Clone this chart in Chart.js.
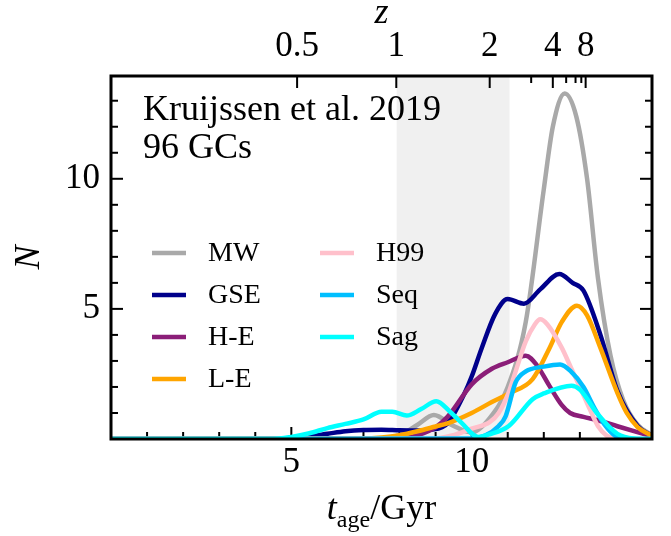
<!DOCTYPE html>
<html>
<head>
<meta charset="utf-8">
<script src="https://cdn.jsdelivr.net/npm/chart.js@4.4.0/dist/chart.umd.min.js"></script>
<style>
  body { margin: 0; background: #fff; }
  canvas { display: block; }
</style>
</head>
<body>
<canvas id="ageChart" width="671" height="536"></canvas>
<script>
// ages (Gyr) and N, one pair of arrays per sample
const mwAge  = [0, 7.0, 7.5, 8.0, 8.5, 8.95, 9.5, 10.0, 10.5, 11.0, 11.5, 12.0, 12.25, 12.58, 12.9, 13.2, 13.5, 13.85, 14.2, 14.6, 15];
const mwN    = [0, 0.0, 0.03, 0.15, 0.55, 0.92, 0.5, 0.25, 0.8, 2.0, 4.5, 9.6, 12.0, 13.28, 12.4, 10.0, 6.2, 3.2, 1.5, 0.55, 0.15];
const gseAge = [0, 4.5, 5.0, 5.5, 6.0, 6.5, 7.0, 7.5, 8.0, 8.5, 8.87, 9.33, 9.8, 10.0, 10.28, 10.65, 11.0, 11.45, 11.9, 12.43, 12.8, 13.1, 13.57, 14.04, 14.6, 15];
const gseN   = [0, 0, 0.03, 0.1, 0.2, 0.3, 0.35, 0.36, 0.34, 0.33, 0.36, 0.6, 1.75, 2.4, 3.5, 4.8, 5.38, 5.2, 5.75, 6.34, 6.0, 5.7, 4.0, 1.85, 0.5, 0.12];
const heAge  = [0, 8.0, 8.5, 9.0, 9.33, 9.5, 10.0, 10.56, 11.0, 11.5, 11.8, 12.16, 12.5, 12.73, 13.1, 13.5, 14.04, 14.5, 15];
const heN    = [0, 0.02, 0.15, 0.45, 0.85, 1.15, 2.1, 2.7, 2.95, 3.2, 2.85, 2.03, 1.3, 1.0, 0.85, 0.72, 0.49, 0.3, 0.1];
const leAge  = [0, 7.0, 7.5, 8.0, 8.5, 9.0, 9.33, 10.0, 10.56, 11.03, 11.69, 12.16, 12.5, 12.92, 13.2, 13.57, 14.04, 14.3, 14.6, 15];
const leN    = [0, 0.02, 0.06, 0.15, 0.3, 0.48, 0.6, 1.0, 1.42, 1.75, 2.3, 3.5, 4.5, 5.12, 4.75, 3.5, 1.77, 1.0, 0.46, 0.12];
const h99Age = [0, 9.0, 9.5, 10.0, 10.5, 10.75, 11.03, 11.22, 11.5, 11.75, 11.9, 12.1, 12.5, 12.75, 13.0, 13.29, 13.5, 13.75, 14.0, 15];
const h99N   = [0, 0.02, 0.15, 0.4, 0.65, 1.0, 1.8, 2.6, 3.75, 4.4, 4.6, 4.4, 3.5, 2.75, 2.0, 1.1, 0.5, 0.12, 0.02, 0];
const seqAge = [0, 10.0, 10.37, 10.75, 10.94, 11.22, 11.5, 12.0, 12.45, 12.75, 13.1, 13.4, 13.67, 14.0, 14.3, 15];
const seqN   = [0, 0.02, 0.13, 0.5, 0.87, 2.18, 2.6, 2.78, 2.86, 2.6, 2.0, 1.2, 0.58, 0.1, 0, 0];
const sagAge = [0, 4.5, 5.0, 5.5, 6.0, 6.5, 7.0, 7.5, 7.8, 8.2, 8.6, 9.02, 9.4, 9.7, 10.18, 10.5, 11.03, 11.69, 12.0, 12.77, 13.0, 13.48, 14.04, 14.5, 15];
const sagN   = [0, 0, 0.08, 0.22, 0.42, 0.58, 0.75, 1.05, 1.05, 0.9, 1.15, 1.45, 1.05, 0.65, 0.08, 0.18, 0.5, 1.53, 1.75, 2.05, 1.9, 0.98, 0.2, 0.02, 0];

const names  = ["MW", "GSE", "H-E", "L-E", "H99", "Seq", "Sag"];
const colors = ["#a9a9a9", "#00008b", "#8b1e78", "#ffa500", "#ffc0cb", "#00bfff", "#00ffff"];

// bottom axis labels, top axis redshift ticks (placed at their lookback time)
const ageLabels = [5, 10];
const zLabels   = ["0.5", "1", "2", "4", "8"];
const zAge      = [5.16, 7.91, 10.5, 12.25, 13.16];
const zMinorAge = [11.65, 12.62, 12.88, 13.04];
const shade     = [7.92, 11.05];

const serif = "'Liberation Serif', 'Times New Roman', serif";
const allAges = [mwAge, gseAge, heAge, leAge, h99Age, seqAge, sagAge];
const allN    = [mwN, gseN, heN, leN, h99N, seqN, sagN];

const datasets = names.map((name, i) => ({
  label: name,
  data: allAges[i].map((t, j) => ({ x: t, y: allN[i][j] })),
  borderColor: colors[i],
  backgroundColor: colors[i],
  borderWidth: 4.5,
  pointRadius: 0,
  cubicInterpolationMode: "monotone",
  order: names.length - i,
}));

function tick(ctx, x1, y1, x2, y2) {
  ctx.beginPath();
  ctx.moveTo(x1, y1);
  ctx.lineTo(x2, y2);
  ctx.stroke();
}

const decor = {
  id: "decor",
  beforeDatasetsDraw(chart) {
    const { ctx, chartArea: a, scales } = chart;
    const x = scales.x, y = scales.y;
    ctx.save();
    // shaded band
    const x0 = x.getPixelForValue(shade[0]), x1 = x.getPixelForValue(shade[1]);
    ctx.fillStyle = "#f0f0f0";
    ctx.fillRect(x0, a.top, x1 - x0, a.bottom - a.top);
    // inward ticks
    ctx.strokeStyle = "#000";
    ctx.lineWidth = 2;
    for (let t = 1; t < 15; t++) {
      const px = x.getPixelForValue(t), len = t % 5 === 0 ? 12 : 7;
      tick(ctx, px, a.bottom, px, a.bottom - len);
    }
    for (let n = 1; n < 14; n++) {
      const py = y.getPixelForValue(n), len = n % 5 === 0 ? 12 : 7;
      tick(ctx, a.left, py, a.left + len, py);
      tick(ctx, a.right, py, a.right - len, py);
    }
    zAge.forEach(t => { const px = x.getPixelForValue(t); tick(ctx, px, a.top, px, a.top + 12); });
    zMinorAge.forEach(t => { const px = x.getPixelForValue(t); tick(ctx, px, a.top, px, a.top + 7); });
    ctx.restore();
  },
  afterDatasetsDraw(chart) {
    const { ctx, chartArea: a } = chart;
    ctx.save();
    ctx.strokeStyle = "#000";
    ctx.lineWidth = 3;
    ctx.strokeRect(a.left, a.top, a.right - a.left, a.bottom - a.top);

    // legend, two columns
    ctx.font = "28px " + serif;
    ctx.textBaseline = "middle";
    ctx.fillStyle = "#000";
    names.forEach((name, i) => {
      const col = i < 4 ? 0 : 1, row = i < 4 ? i : i - 4;
      const lx = col === 0 ? 152 : 320, ly = 253 + row * 42;
      ctx.strokeStyle = colors[i];
      ctx.lineWidth = 4.5;
      tick(ctx, lx, ly, lx + 34, ly);
      ctx.fillText(name, lx + 56, ly + 1);
    });

    // annotation
    ctx.font = "36px " + serif;
    ctx.textBaseline = "alphabetic";
    ctx.fillText("Kruijssen et al. 2019", 143, 120);
    ctx.fillText("96 GCs", 143, 158);

    // axis titles
    const cx = (a.left + a.right) / 2;
    ctx.font = "italic 36px " + serif;
    ctx.textAlign = "center";
    ctx.fillText("z", cx, 23);
    ctx.save();
    ctx.translate(30, (a.top + a.bottom) / 2);
    ctx.rotate(-Math.PI / 2);
    ctx.textBaseline = "middle";
    ctx.fillText("N", 0, 0);
    ctx.restore();

    ctx.textAlign = "left";
    const fT = "italic 36px " + serif, fS = "24px " + serif, fG = "36px " + serif;
    ctx.font = fT; const wT = ctx.measureText("t").width;
    ctx.font = fS; const wS = ctx.measureText("age").width;
    ctx.font = fG; const wG = ctx.measureText("/Gyr").width;
    let sx = cx - (wT + wS + wG) / 2;
    const base = 519;
    ctx.font = fT; ctx.fillText("t", sx, base); sx += wT;
    ctx.font = fS; ctx.fillText("age", sx, base + 8); sx += wS;
    ctx.font = fG; ctx.fillText("/Gyr", sx, base);
    ctx.restore();
  },
};

const tickFont = { family: serif, size: 35 };

const ageConfig = {
  type: "line",
  data: { datasets },
  options: {
    responsive: false,
    animation: false,
    devicePixelRatio: 1,
    layout: { padding: { left: 0, right: 19, top: 0, bottom: 0 } },
    plugins: { legend: { display: false }, tooltip: { enabled: false } },
    scales: {
      x: {
        type: "linear", position: "bottom", min: 0, max: 15,
        afterFit: s => { s.height = 97; },
        grid: { display: false, drawTicks: false },
        border: { display: false },
        ticks: {
          stepSize: 1, autoSkip: false, maxRotation: 0, padding: 3, color: "#000", font: tickFont,
          callback: v => ageLabels.includes(v) ? String(v) : "",
        },
      },
      top: {
        type: "linear", position: "top", min: 0, max: 15,
        afterFit: s => { s.height = 76; },
        afterBuildTicks: s => { s.ticks = zAge.map(v => ({ value: v })); },
        grid: { display: false, drawTicks: false },
        border: { display: false },
        ticks: {
          autoSkip: false, maxRotation: 0, padding: 8, color: "#000", font: tickFont,
          callback: (v, i) => zLabels[i],
        },
      },
      y: {
        type: "linear", position: "left", min: 0, max: 13.95,
        afterFit: s => { s.width = 111; },
        grid: { display: false, drawTicks: false },
        border: { display: false },
        ticks: {
          stepSize: 1, autoSkip: false, padding: 11, color: "#000", font: tickFont,
          callback: v => ageLabels.includes(v) ? String(v) : "",
        },
      },
    },
  },
  plugins: [decor],
};
var ageChart = new Chart(document.getElementById("ageChart"), ageConfig);
</script>
</body>
</html>
